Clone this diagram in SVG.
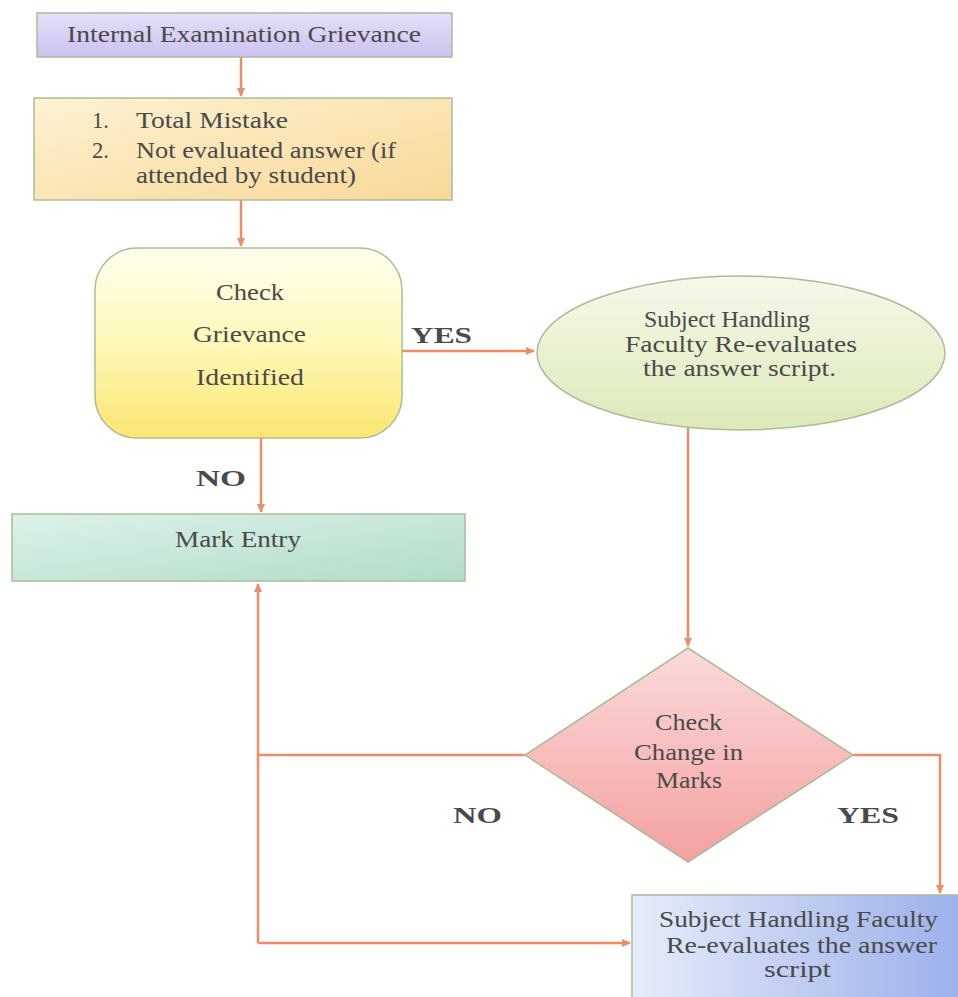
<svg xmlns="http://www.w3.org/2000/svg" width="958" height="997" viewBox="0 0 958 997">
<style>
text{font-family:'Liberation Serif','Times New Roman',serif;font-size:24px;fill:#4a4a4a}
.b{font-weight:bold}
.c{fill:none;stroke:#ee8c68;stroke-width:2.5}
.node{stroke:#a9bd98;stroke-width:1.5}
</style>
<defs>
<linearGradient id="gP" x1="0" y1="0" x2="0" y2="1"><stop offset="0" stop-color="#e4e0f8"/><stop offset="1" stop-color="#cbc2f0"/></linearGradient>
<linearGradient id="gO" x1="0" y1="0" x2="1" y2="1"><stop offset="0" stop-color="#fdf2d2"/><stop offset="1" stop-color="#f8d898"/></linearGradient>
<linearGradient id="gY" x1="0" y1="0" x2="0" y2="1"><stop offset="0" stop-color="#fffef0"/><stop offset="0.5" stop-color="#fef8b8"/><stop offset="1" stop-color="#fbe670"/></linearGradient>
<linearGradient id="gG" x1="0" y1="0" x2="0" y2="1"><stop offset="0" stop-color="#f6f9ea"/><stop offset="1" stop-color="#dce9b8"/></linearGradient>
<linearGradient id="gT" x1="0" y1="0" x2="1" y2="1"><stop offset="0" stop-color="#dcf2ea"/><stop offset="1" stop-color="#b2dcc8"/></linearGradient>
<linearGradient id="gR" x1="0" y1="0" x2="0" y2="1"><stop offset="0" stop-color="#fbdada"/><stop offset="1" stop-color="#f4a0a0"/></linearGradient>
<linearGradient id="gB" x1="0" y1="0" x2="1" y2="0"><stop offset="0" stop-color="#e6ecfa"/><stop offset="1" stop-color="#9cb0ea"/></linearGradient>
<marker id="ah" markerWidth="10" markerHeight="10" refX="8" refY="5" orient="auto" markerUnits="userSpaceOnUse"><path d="M0,1 L9,5 L0,9 z" fill="#ee8c68"/></marker>
</defs>

<g id="connectors">
<line class="c" x1="241" y1="57" x2="241" y2="96" marker-end="url(#ah)"/>
<line class="c" x1="241" y1="200" x2="241" y2="246" marker-end="url(#ah)"/>
<line class="c" x1="402" y1="351" x2="534" y2="351" marker-end="url(#ah)"/>
<line class="c" x1="261" y1="438" x2="261" y2="512" marker-end="url(#ah)"/>
<line class="c" x1="688" y1="428" x2="688" y2="646" marker-end="url(#ah)"/>
<polyline class="c" points="525,755 258,755"/>
<line class="c" x1="258" y1="943" x2="258" y2="584" marker-end="url(#ah)"/>
<line class="c" x1="258" y1="943" x2="630" y2="943" marker-end="url(#ah)"/>
<polyline class="c" points="853,755 940,755 940,893" marker-end="url(#ah)"/>
</g>

<g id="n1"><rect class="node" x="37" y="13" width="415" height="44" fill="url(#gP)"/>
<text x="67" y="42" textLength="354" lengthAdjust="spacingAndGlyphs">Internal Examination Grievance</text></g>

<g id="n2"><rect class="node" x="34" y="98" width="418" height="102" fill="url(#gO)"/>
<text x="92" y="128" textLength="17" lengthAdjust="spacingAndGlyphs">1.</text>
<text x="136" y="128" textLength="152" lengthAdjust="spacingAndGlyphs">Total Mistake</text>
<text x="92" y="158" textLength="17" lengthAdjust="spacingAndGlyphs">2.</text>
<text x="136" y="158" textLength="260" lengthAdjust="spacingAndGlyphs">Not evaluated answer (if</text>
<text x="136" y="183" textLength="220" lengthAdjust="spacingAndGlyphs">attended by student)</text></g>

<g id="n3"><rect class="node" x="95" y="248" width="307" height="190" rx="42" fill="url(#gY)"/>
<text x="216" y="300" textLength="68" lengthAdjust="spacingAndGlyphs">Check</text>
<text x="193" y="342" textLength="113" lengthAdjust="spacingAndGlyphs">Grievance</text>
<text x="196" y="385" textLength="108" lengthAdjust="spacingAndGlyphs">Identified</text></g>

<g id="n4"><ellipse class="node" cx="741" cy="353" rx="204" ry="77" fill="url(#gG)"/>
<text x="644" y="327" textLength="166" lengthAdjust="spacingAndGlyphs">Subject Handling</text>
<text x="625" y="352" textLength="232" lengthAdjust="spacingAndGlyphs">Faculty Re-evaluates</text>
<text x="643" y="376" textLength="193" lengthAdjust="spacingAndGlyphs">the answer script.</text></g>

<g id="n5"><rect class="node" x="12" y="514" width="453" height="67" fill="url(#gT)"/>
<text x="175" y="547" textLength="126" lengthAdjust="spacingAndGlyphs">Mark Entry</text></g>

<g id="n6"><polygon class="node" points="688,648 853,755 688,862 525,755" fill="url(#gR)"/>
<text x="655" y="730" textLength="67" lengthAdjust="spacingAndGlyphs">Check</text>
<text x="634" y="760" textLength="109" lengthAdjust="spacingAndGlyphs">Change in</text>
<text x="656" y="788" textLength="66" lengthAdjust="spacingAndGlyphs">Marks</text></g>

<g id="n7"><rect class="node" x="632" y="895" width="330" height="110" fill="url(#gB)"/>
<text x="659" y="927" textLength="279" lengthAdjust="spacingAndGlyphs">Subject Handling Faculty</text>
<text x="666" y="953" textLength="271" lengthAdjust="spacingAndGlyphs">Re-evaluates the answer</text>
<text x="764" y="977" textLength="67" lengthAdjust="spacingAndGlyphs">script</text></g>

<g id="labels">
<text class="b" x="411" y="343" textLength="61" lengthAdjust="spacingAndGlyphs">YES</text>
<text class="b" x="196" y="486" textLength="50" lengthAdjust="spacingAndGlyphs">NO</text>
<text class="b" x="453" y="823" textLength="49" lengthAdjust="spacingAndGlyphs">NO</text>
<text class="b" x="837" y="823" textLength="62" lengthAdjust="spacingAndGlyphs">YES</text>
</g>
</svg>
